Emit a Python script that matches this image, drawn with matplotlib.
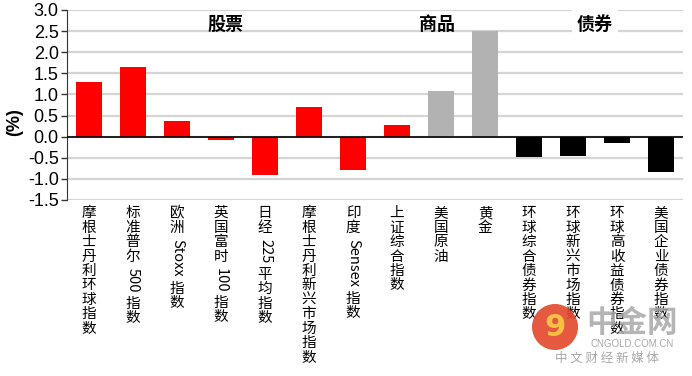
import matplotlib
matplotlib.use("Agg")
import matplotlib.pyplot as plt
import numpy as np
from matplotlib.font_manager import FontProperties
from matplotlib.patches import Circle
from matplotlib.textpath import TextPath

categories = [
    "摩根士丹利环球指数", "标准普尔 500 指数", "欧洲 Stoxx 指数", "英国富时 100 指数",
    "日经 225 平均指数", "摩根士丹利新兴市场指数", "印度 Sensex 指数", "上证综合指数",
    "美国原油", "黄金",
    "环球综合债券指数", "环球新兴市场指数", "环球高收益债券指数", "美国企业债券指数",
]
returns = [1.30, 1.65, 0.37, -0.09, -0.90, 0.71, -0.79, 0.27,
           1.09, 2.50,
           -0.49, -0.45, -0.15, -0.83]
groups = ["股票"] * 8 + ["商品"] * 2 + ["债券"] * 4
group_colors = {"股票": "#FF0000", "商品": "#B2B2B2", "债券": "#000000"}
group_title_pos = {"股票": 3.1, "商品": 7.9, "债券": 11.5}
yticks = [-1.5, -1.0, -0.5, 0.0, 0.5, 1.0, 1.5, 2.0, 2.5, 3.0]

CJK = "Noto Sans CJK SC"
LAB_FS = 10.5
cjk_fp = FontProperties(family=CJK, size=LAB_FS)


def vertical_label(ax, x, label, step=10.4, start=4.5):
    # excel-style stacked text: CJK upright, latin runs turned sideways
    trans = ax.get_xaxis_transform()
    y = start
    for k, part in enumerate(label.split(" ")):
        if k:
            y += 2.5
        if part.isascii():
            w = TextPath((0, 0), part, size=LAB_FS, prop=cjk_fp).get_extents().width
            ax.annotate(part, (x, 0), xycoords=trans, xytext=(0, -y),
                        textcoords="offset points", rotation=-90,
                        ha="center", va="top", fontsize=LAB_FS, family=CJK,
                        annotation_clip=False)
            y += w + 2.0
        else:
            for ch in part:
                ax.annotate(ch, (x, 0), xycoords=trans, xytext=(0, -y),
                            textcoords="offset points", ha="center", va="top",
                            fontsize=LAB_FS, family=CJK, annotation_clip=False)
                y += step


fig = plt.figure(figsize=(6.92, 3.76), dpi=100)
ax = fig.add_axes([67 / 692, 1 - 200 / 376, 616 / 692, 190 / 376])

x = np.arange(len(categories))
colors = [group_colors[g] for g in groups]
ax.bar(x, returns, width=0.6, color=colors, zorder=2)
ax.axhline(0, color="black", lw=1.2, zorder=3)

ax.set_xlim(-0.5, len(categories) - 0.5)
ax.set_ylim(-1.5, 3.0)
ax.set_yticks(yticks)
ax.set_yticklabels([f"{v:.1f}" for v in yticks], family="Liberation Sans", fontsize=13)
ax.set_xticks([])
ax.tick_params(axis="y", direction="out", length=4, width=1, color="#333333", pad=2)
ax.yaxis.grid(True, color="#D4D4D4", lw=1.6, zorder=0)
ax.set_axisbelow(True)
for side in ("top", "right", "bottom"):
    ax.spines[side].set_visible(False)
ax.spines["left"].set_color("#333333")

for name, xpos in group_title_pos.items():
    bbox = None
    if name == "债券":
        bbox = dict(facecolor="white", edgecolor="none", pad=3.5)
    ax.text(xpos, 2.66, name, ha="center", va="center", fontsize=13,
            fontweight="bold", family=CJK, bbox=bbox, zorder=4)

for i, lab in enumerate(categories):
    vertical_label(ax, x[i], lab)

fig.text(15 / 692, 1 - 122 / 376, "(%)", rotation=90, ha="center", va="center",
         fontsize=13, fontweight="bold", family="Liberation Sans")

# watermark
fig.patches.append(Circle((5.55, 0.49), 0.23, transform=fig.dpi_scale_trans,
                          facecolor="#E2472A", edgecolor="none", alpha=0.9, zorder=5))
fig.text(5.55, 0.49, "9", transform=fig.dpi_scale_trans, ha="center", va="center",
         fontsize=22, fontweight="bold", color="#F7C043", family="DejaVu Sans", zorder=6)
fig.text(6.32, 0.53, "中金网", transform=fig.dpi_scale_trans, ha="center", va="center",
         fontsize=22, fontweight="bold", color="#A8A8A8", alpha=0.85, family=CJK, zorder=6)
fig.text(6.32, 0.32, "CNGOLD.COM.CN", transform=fig.dpi_scale_trans, ha="center",
         va="center", fontsize=7, color="#A8A8A8", family="Liberation Sans", zorder=6)
fig.text(6.07, 0.18, "中 文 财 经 新 媒 体", transform=fig.dpi_scale_trans, ha="center",
         va="center", fontsize=9, color="#A8A8A8", family=CJK, zorder=6)

fig.savefig("out.png", dpi=100)
plt.close(fig)
